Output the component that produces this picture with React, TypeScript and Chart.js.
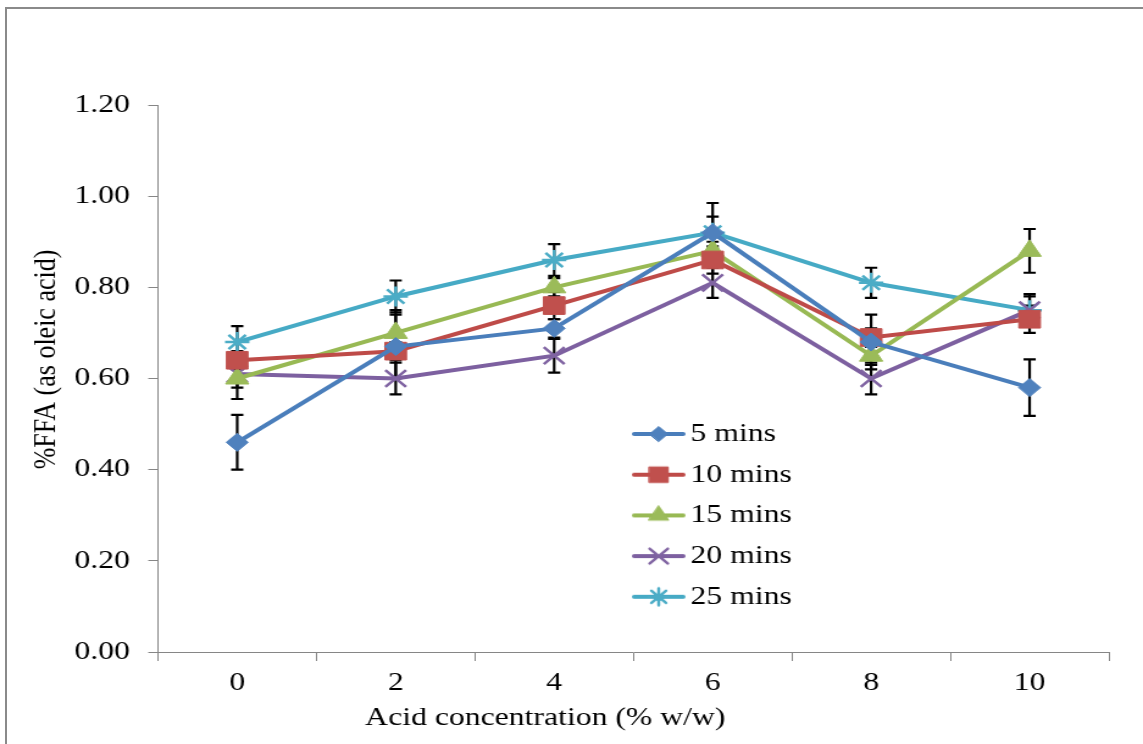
import React, { useEffect, useRef } from 'react';
import { Chart, registerables } from 'chart.js';
import { drawPoint } from 'chart.js/helpers';

Chart.register(...registerables);

// ---------- data ----------
const categories = ['0', '2', '4', '6', '8', '10'];
const seriesLabels = ['5 mins', '10 mins', '15 mins', '20 mins', '25 mins'];

const mins5 = [0.46, 0.67, 0.71, 0.92, 0.68, 0.58];
const mins10 = [0.64, 0.66, 0.76, 0.86, 0.69, 0.73];
const mins15 = [0.60, 0.70, 0.80, 0.88, 0.65, 0.88];
const mins20 = [0.61, 0.60, 0.65, 0.81, 0.60, 0.75];
const mins25 = [0.68, 0.78, 0.86, 0.92, 0.81, 0.75];

const mins5Err = [0.06, 0.07, 0.02, 0.065, 0.06, 0.062];
const mins10Err = [0.02, 0.02, 0.03, 0.03, 0.02, 0.03];
const mins15Err = [0.045, 0.05, 0.02, 0.02, 0.02, 0.048];
const mins20Err = [0.03, 0.035, 0.037, 0.033, 0.035, 0.03];
const mins25Err = [0.035, 0.035, 0.035, 0.035, 0.033, 0.035];

const yMin = 0;
const yMax = 1.2;
const yStep = 0.2;

const xTitle = 'Acid concentration (% w/w)';
const yTitle = '%FFA (as oleic acid)';

// ---------- styles ----------
const seriesValues = [mins5, mins10, mins15, mins20, mins25];
const seriesErrors = [mins5Err, mins10Err, mins15Err, mins20Err, mins25Err];
const lineColors = ['#4A7EBB', '#BE4B48', '#98B954', '#7D60A0', '#46AAC5'];
const markerColors = ['#4F81BD', '#C0504D', '#9BBB59', '#8064A2', '#4BACC6'];
const markerStyles = ['rectRot', 'rect', 'triangle', 'crossRot', 'star'];
const markerRadii = [9, 12.5, 11, 12, 10];
const markerBorders = [1, 1, 1, 2.5, 2.5];

const FONT = '"Liberation Serif", "Times New Roman", serif';
const AXIS_GRAY = '#868686';
const STRETCH = 1143 / 937;
const CW = 937;
const CH = 744;

function makeLegendImage(i: number): HTMLCanvasElement {
  const c = document.createElement('canvas');
  c.width = 44;
  c.height = 26;
  const ctx = c.getContext('2d')!;
  ctx.strokeStyle = lineColors[i];
  ctx.lineWidth = 4;
  ctx.lineCap = 'round';
  ctx.beginPath();
  ctx.moveTo(2, 13);
  ctx.lineTo(42, 13);
  ctx.stroke();
  ctx.fillStyle = markerColors[i];
  ctx.strokeStyle = markerColors[i];
  ctx.lineWidth = markerBorders[i];
  drawPoint(ctx, { pointStyle: markerStyles[i], radius: markerRadii[i] - 1.5, borderWidth: markerBorders[i], rotation: 0 } as any, 22, 13);
  return c;
}

const errorBars = {
  id: 'errorBars',
  beforeDatasetsDraw(chart: any) {
    const { ctx } = chart;
    const y = chart.scales.y;
    ctx.save();
    ctx.strokeStyle = '#000';
    ctx.lineWidth = 2.2;
    chart.data.datasets.forEach((ds: any, i: number) => {
      const meta = chart.getDatasetMeta(i);
      const errs = seriesErrors[i];
      meta.data.forEach((pt: any, j: number) => {
        const v = ds.data[j];
        const e = errs[j];
        const yt = y.getPixelForValue(v + e);
        const yb = y.getPixelForValue(v - e);
        const x = pt.x;
        ctx.beginPath();
        ctx.moveTo(x, yt);
        ctx.lineTo(x, yb);
        ctx.moveTo(x - 5, yt);
        ctx.lineTo(x + 5, yt);
        ctx.moveTo(x - 5, yb);
        ctx.lineTo(x + 5, yb);
        ctx.stroke();
      });
    });
    ctx.restore();
  },
};

const legendPlacer = {
  id: 'legendPlacer',
  afterLayout(chart: any) {
    const lg = chart.legend;
    if (!lg) return;
    const ca = chart.chartArea;
    const left = ca.left + 382.8;
    const top = ca.top + 301.3;
    lg.left = left;
    lg.top = top;
    lg.right = left + lg.width;
    lg.bottom = top + lg.height;
  },
};

const axisTitles = {
  id: 'axisTitles',
  afterDraw(chart: any) {
    const { ctx, chartArea: ca } = chart;
    ctx.save();
    ctx.font = `26px ${FONT}`;
    ctx.fillStyle = '#000';
    ctx.textAlign = 'center';
    ctx.textBaseline = 'middle';
    ctx.fillText(xTitle, ca.left + 317.5, ca.bottom + 66);
    ctx.translate(38.5, ca.top + 254.5);
    ctx.rotate(-Math.PI / 2);
    ctx.fillText(yTitle, 0, 0);
    ctx.restore();
  },
};

export default function App() {
  const ref = useRef<HTMLCanvasElement | null>(null);

  useEffect(() => {
    if (!ref.current) return;
    const legendImages = seriesLabels.map((_, i) => makeLegendImage(i));
    const chart = new Chart(ref.current, {
      type: 'line',
      data: {
        labels: categories,
        datasets: seriesLabels.map((label, i) => ({
          label,
          data: seriesValues[i],
          borderColor: lineColors[i],
          backgroundColor: markerColors[i],
          borderWidth: 4,
          tension: 0,
          fill: false,
          pointStyle: markerStyles[i] as any,
          pointRadius: markerRadii[i],
          pointHoverRadius: markerRadii[i],
          pointBackgroundColor: markerColors[i],
          pointBorderColor: markerColors[i],
          pointBorderWidth: markerBorders[i],
        })),
      },
      options: {
        responsive: false,
        animation: false,
        events: [],
        layout: { padding: { left: 0, top: 105, right: 28, bottom: 0 } },
        font: { family: FONT, size: 26 },
        scales: {
          x: {
            type: 'category',
            offset: true,
            afterFit: (s: any) => { s.height = 92; },
            grid: { offset: true, drawOnChartArea: false, drawTicks: true, tickLength: 9, color: AXIS_GRAY, lineWidth: 1 },
            border: { display: true, color: AXIS_GRAY, width: 1 },
            ticks: { color: '#000', font: { family: FONT, size: 26 }, padding: 7, autoSkip: false, maxRotation: 0 },
          },
          y: {
            type: 'linear',
            min: yMin,
            max: yMax,
            afterFit: (s: any) => { s.width = 129.5; },
            grid: { drawOnChartArea: false, drawTicks: true, tickLength: 8, color: AXIS_GRAY, lineWidth: 1 },
            border: { display: true, color: AXIS_GRAY, width: 1 },
            ticks: {
              stepSize: yStep,
              color: '#000',
              font: { family: FONT, size: 26 },
              padding: 15,
              callback: (v: any) => Number(v).toFixed(2),
            },
          },
        },
        plugins: {
          tooltip: { enabled: false },
          title: { display: false },
          legend: {
            display: true,
            position: 'chartArea' as any,
            align: 'start',
            labels: {
              usePointStyle: true,
              pointStyleWidth: 26,
              boxHeight: 26,
              padding: 14.7,
              color: '#000',
              font: { family: FONT, size: 26 },
              generateLabels: (c: any) => {
                const items = (Chart.defaults.plugins.legend.labels as any).generateLabels(c);
                return items.map((it: any, i: number) => ({ ...it, pointStyle: legendImages[i], fontColor: '#000', lineWidth: 0 }));
              },
            },
          },
        },
      },
      plugins: [errorBars, legendPlacer, axisTitles],
    });
    return () => chart.destroy();
  }, []);

  return (
    <div style={{ position: 'absolute', left: 0, top: 0, width: 1143, height: 744, overflow: 'hidden', background: '#fff' }}>
      <div style={{ position: 'absolute', left: 5, top: 7, width: 1300, height: 900, border: '2px solid #8a8a8a', boxSizing: 'border-box' }} />
      <div style={{ position: 'absolute', left: 0, top: 0, width: CW, height: CH, transform: `scaleX(${STRETCH})`, transformOrigin: 'left top' }}>
        <canvas ref={ref} width={CW} height={CH} style={{ width: `${CW}px`, height: `${CH}px`, display: 'block' }} />
      </div>
    </div>
  );
}
